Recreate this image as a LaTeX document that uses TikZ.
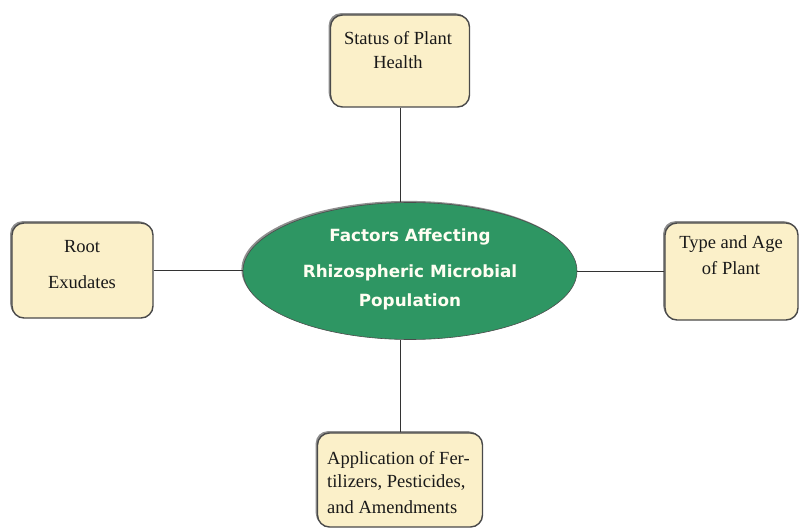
\documentclass[tikz,border=0pt]{standalone}
\usepackage{fontspec}
\setmainfont{Liberation Serif}
\newfontfamily\ellfont{DejaVu Sans}
\usetikzlibrary{shapes.geometric,shadows}
\definecolor{boxfill}{HTML}{FBF0C9}
\definecolor{boxline}{HTML}{4A4A4A}
\definecolor{ellfill}{HTML}{2E9663}
\tikzset{
  factorbox/.style={draw=boxline, line width=1.4pt, fill=boxfill, rounded corners=12pt,
    drop shadow={shadow xshift=-1.8pt, shadow yshift=1.8pt, fill=black!55, opacity=0.8}},
  boxtext/.style={font=\fontsize{18.5}{24}\selectfont, text=black!90, inner sep=0pt},
  centre/.style={ellipse, draw=black!70, line width=0.6pt, fill=ellfill,
    drop shadow={shadow xshift=-1.6pt, shadow yshift=1.6pt, fill=black!55, opacity=0.8}},
  elltext/.style={font=\ellfont\bfseries\fontsize{16.8}{20}\selectfont, text=white!95!yellow, inner sep=0pt},
  link/.style={draw=black!80, line width=1pt}
}
\begin{document}
\begin{tikzpicture}[x=1pt,y=-1pt]
\useasboundingbox (0,0) rectangle (800,529);
% central ellipse
\node[centre, minimum width=334pt, minimum height=137pt, inner sep=0pt] (ell) at (410,271) {};
\node[elltext] (t1) at (410,237) {Factors Affecting};
\node[elltext] (t2) at (410,273) {Rhizospheric Microbial};
\node[elltext] (t3) at (410,302) {Population};
% boxes
\node[factorbox, minimum width=139pt, minimum height=92pt] (top) at (400,61) {};
\node[boxtext] (topa) at (398,38) {Status of Plant};
\node[boxtext] (topb) at (398,62) {Health};
\node[factorbox, minimum width=141pt, minimum height=95pt] (left) at (82.5,270.5) {};
\node[boxtext] (lefta) at (82,247) {Root};
\node[boxtext] (leftb) at (82,282) {Exudates};
\node[factorbox, minimum width=133pt, minimum height=97pt] (right) at (731.5,271.5) {};
\node[boxtext] (righta) at (731,244) {Type and Age};
\node[boxtext] (rightb) at (731,268) {of Plant};
\node[factorbox, minimum width=165pt, minimum height=94pt] (bottom) at (400,480) {};
\node[boxtext, anchor=west] (bota) at (327,460) {Application of Fer-};
\node[boxtext, anchor=west] (botb) at (327,483) {tilizers, Pesticides,};
\node[boxtext, anchor=west] (botc) at (327,507) {and Amendments};
% connectors
\draw[link] (top.south) -- (top.south |- ell.north);
\draw[link] (bottom.north) -- (bottom.north |- ell.south);
\draw[link] (left.east) -- (left.east -| ell.west);
\draw[link] (right.west) -- (right.west -| ell.east);
\end{tikzpicture}
\end{document}
